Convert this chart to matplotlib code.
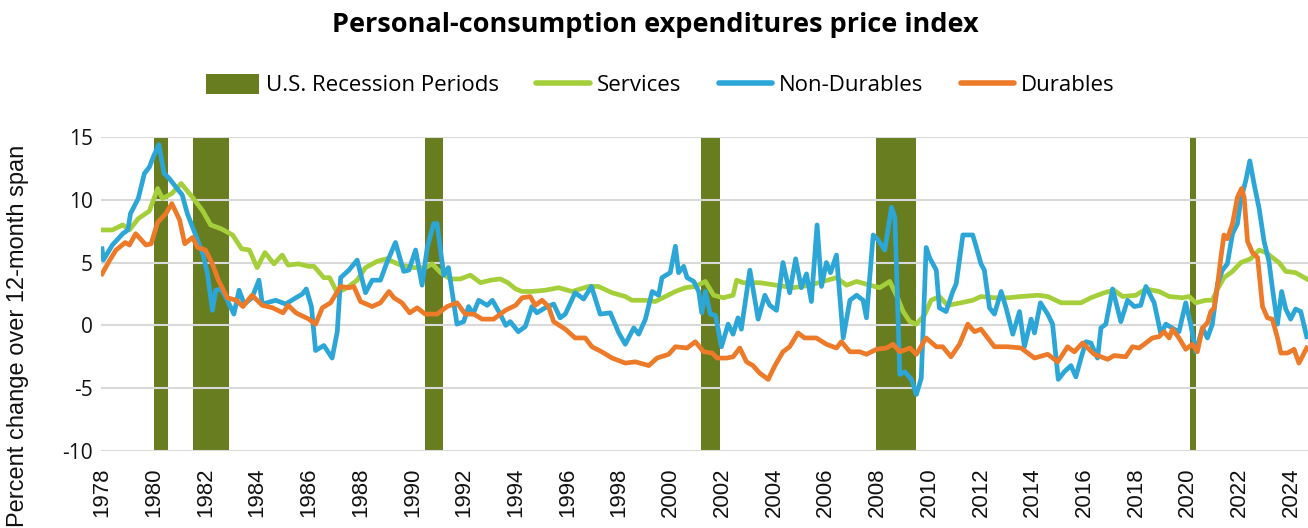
import matplotlib
matplotlib.use("Agg")
import matplotlib.pyplot as plt
from matplotlib.patches import Patch
from matplotlib.lines import Line2D

title = "Personal-consumption expenditures price index"
y_label = "Percent change over 12-month span"
x_ticks = list(range(1978, 2025, 2))
y_ticks = [-10, -5, 0, 5, 10, 15]

recession_start = [1980.0, 1981.5, 1990.5, 2001.17, 2007.92, 2020.08]
recession_end = [1980.55, 1982.9, 1991.2, 2001.9, 2009.5, 2020.33]

services_t = [1978.0, 1978.4, 1978.8, 1979.06, 1979.4, 1979.83, 1980.15, 1980.34, 1980.7, 1981.06,
              1981.5, 1981.9, 1982.2, 1982.6, 1983.05, 1983.4, 1983.7, 1984.0, 1984.3, 1984.65,
              1984.97, 1985.2, 1985.6, 1986.0, 1986.2, 1986.58, 1986.8, 1987.1, 1987.48, 1987.87,
              1988.19, 1988.64, 1989.0, 1989.55, 1990.06, 1990.5, 1990.77, 1991.1, 1991.47, 1991.86,
              1992.25, 1992.64, 1993.03, 1993.4, 1993.7, 1994.0, 1994.25, 1994.63, 1995.14, 1995.66,
              1996.18, 1996.82, 1997.2, 1997.73, 1998.24, 1998.5, 1999.02, 1999.4, 1999.79, 2000.18,
              2000.56, 2000.95, 2001.34, 2001.66, 2002.03, 2002.41, 2002.55, 2002.8, 2003.44, 2004.09,
              2004.73, 2005.37, 2005.89, 2006.41, 2006.8, 2007.19, 2007.7, 2008.08, 2008.47, 2008.73,
              2008.99, 2009.25, 2009.5, 2009.81, 2010.07, 2010.39, 2010.71, 2011.23, 2011.68, 2012.0,
              2012.52, 2013.04, 2013.55, 2014.2, 2014.58, 2015.1, 2015.87, 2016.25, 2016.77, 2017.15,
              2017.48, 2017.99, 2018.38, 2018.89, 2019.28, 2019.79, 2020.05, 2020.31, 2020.69, 2020.95,
              2021.15, 2021.4, 2021.73, 2022.05, 2022.43, 2022.76, 2023.02, 2023.27, 2023.53, 2023.79,
              2024.17, 2024.6]
services_v = [7.6, 7.6, 8.0, 7.6, 8.5, 9.1, 10.9, 10.1, 10.5, 11.3,
              10.2, 9.1, 8.0, 7.7, 7.2, 6.1, 6.0, 4.6, 5.8, 4.9,
              5.6, 4.8, 4.9, 4.7, 4.7, 3.8, 3.8, 2.6, 3.0, 3.6,
              4.6, 5.1, 5.3, 4.8, 4.6, 4.6, 4.9, 4.2, 3.7, 3.7,
              4.0, 3.4, 3.6, 3.7, 3.4, 2.9, 2.7, 2.7, 2.8, 3.0,
              2.7, 3.1, 3.1, 2.6, 2.3, 2.0, 2.0, 1.9, 2.3, 2.7,
              3.0, 3.1, 3.5, 2.4, 2.2, 2.4, 3.6, 3.4, 3.4, 3.2,
              3.0, 3.2, 3.5, 3.8, 3.2, 3.5, 3.2, 3.0, 3.5, 2.4,
              1.1, 0.3, 0.1, 0.8, 2.0, 2.3, 1.6, 1.8, 2.0, 2.3,
              2.2, 2.2, 2.3, 2.4, 2.3, 1.8, 1.8, 2.2, 2.6, 2.8,
              2.3, 2.4, 2.9, 2.7, 2.3, 2.2, 2.3, 1.8, 2.0, 2.0,
              2.9, 3.8, 4.3, 5.0, 5.3, 6.0, 5.8, 5.4, 5.0, 4.3,
              4.2, 3.7]

nondurables_t = [1978.0, 1978.05, 1978.4, 1978.8, 1979.0, 1979.1, 1979.4, 1979.64, 1979.83, 1980.0,
                 1980.2, 1980.4, 1980.6, 1980.9, 1981.1, 1981.3, 1981.6, 1981.9, 1982.08, 1982.27,
                 1982.4, 1982.6, 1982.85, 1983.1, 1983.3, 1983.5, 1983.8, 1984.07, 1984.2, 1984.72,
                 1985.1, 1985.5, 1985.75, 1985.9, 1986.1, 1986.26, 1986.58, 1986.9, 1987.1, 1987.23,
                 1987.55, 1987.87, 1988.19, 1988.45, 1988.77, 1989.0, 1989.35, 1989.67, 1989.87, 1990.13,
                 1990.38, 1990.58, 1990.83, 1990.96, 1991.22, 1991.4, 1991.73, 1991.99, 1992.18, 1992.35,
                 1992.57, 1992.9, 1993.1, 1993.35, 1993.62, 1993.79, 1994.1, 1994.37, 1994.63, 1994.82,
                 1995.14, 1995.47, 1995.72, 1995.92, 1996.3, 1996.63, 1996.93, 1997.27, 1997.66, 1997.99,
                 1998.24, 1998.57, 1998.76, 1999.02, 1999.28, 1999.53, 1999.66, 1999.98, 2000.18, 2000.3,
                 2000.5, 2000.63, 2000.89, 2001.08, 2001.2, 2001.34, 2001.53, 2001.73, 2001.96, 2002.22,
                 2002.41, 2002.6, 2002.73, 2003.06, 2003.38, 2003.64, 2003.83, 2004.09, 2004.34, 2004.6,
                 2004.83, 2005.05, 2005.25, 2005.44, 2005.66, 2005.83, 2006.02, 2006.18, 2006.41, 2006.67,
                 2006.93, 2007.19, 2007.44, 2007.57, 2007.83, 2008.02, 2008.28, 2008.54, 2008.67, 2008.86,
                 2009.05, 2009.31, 2009.5, 2009.69, 2009.88, 2010.01, 2010.27, 2010.39, 2010.65, 2010.91,
                 2011.04, 2011.3, 2011.68, 2011.81, 2012.0, 2012.13, 2012.33, 2012.52, 2012.78, 2012.97,
                 2013.23, 2013.49, 2013.68, 2013.94, 2014.07, 2014.3, 2014.58, 2014.77, 2014.99, 2015.22,
                 2015.48, 2015.67, 2015.87, 2016.06, 2016.25, 2016.51, 2016.64, 2016.83, 2017.09, 2017.41,
                 2017.67, 2017.93, 2018.18, 2018.38, 2018.7, 2018.96, 2019.15, 2019.47, 2019.66, 2019.92,
                 2020.11, 2020.31, 2020.57, 2020.76, 2020.95, 2021.15, 2021.34, 2021.53, 2021.73, 2021.92,
                 2022.05, 2022.24, 2022.4, 2022.56, 2022.76, 2022.95, 2023.14, 2023.27, 2023.47, 2023.63,
                 2023.79, 2023.98, 2024.17, 2024.37, 2024.6]
nondurables_v = [6.1, 5.2, 6.4, 7.3, 7.6, 8.9, 10.1, 12.1, 12.6, 13.5,
                 14.4, 12.1, 11.7, 10.9, 10.4, 8.9, 7.3, 5.7, 4.1, 1.2,
                 2.8, 2.9, 2.0, 0.9, 2.8, 1.7, 2.2, 3.6, 1.7, 2.0,
                 1.7, 2.2, 2.5, 2.9, 1.5, -2.0, -1.6, -2.6, -0.5, 3.8,
                 4.4, 5.2, 2.6, 3.6, 3.6, 4.9, 6.6, 4.3, 4.4, 6.0,
                 3.2, 6.2, 8.1, 8.1, 4.0, 4.6, 0.1, 0.3, 1.5, 0.9,
                 2.0, 1.6, 2.0, 1.1, 0.0, 0.3, -0.5, -0.1, 1.5, 1.0,
                 1.4, 1.7, 0.6, 0.9, 2.6, 2.1, 3.1, 0.9, 1.0, -0.6,
                 -1.5, -0.2, -0.7, 0.5, 2.7, 2.4, 3.8, 4.2, 6.3, 4.2,
                 4.7, 3.8, 3.5, 2.7, 1.0, 2.7, 0.9, 0.8, -1.7, 0.1,
                 -0.7, 0.6, -0.3, 4.4, 0.5, 2.4, 1.6, 1.2, 5.0, 2.6,
                 5.3, 3.0, 4.1, 1.9, 8.0, 3.1, 5.0, 4.2, 5.6, -1.0,
                 2.0, 2.4, 2.0, 0.6, 7.2, 6.8, 6.0, 9.4, 8.6, -3.9,
                 -3.7, -4.3, -5.5, -4.2, 6.2, 5.4, 4.4, 1.4, 1.1, 2.7,
                 3.3, 7.2, 7.2, 6.3, 4.9, 4.4, 1.4, 0.9, 2.7, 1.4,
                 -0.7, 1.1, -1.7, 0.5, -0.6, 1.8, 0.9, 0.1, -4.3, -3.7,
                 -3.2, -4.1, -2.6, -1.3, -1.4, -2.6, -0.2, 0.1, 2.9, 0.3,
                 2.0, 1.5, 1.6, 3.1, 1.8, -0.7, 0.1, -0.3, -0.5, 1.8,
                 0.1, -2.1, -0.2, -1.0, 0.1, 3.3, 4.4, 4.9, 7.3, 8.1,
                 10.0, 11.5, 13.1, 11.3, 9.3, 6.7, 5.1, 3.0, 0.1, 2.7,
                 1.3, 0.5, 1.3, 1.1, -0.9]

durables_t = [1978.0, 1978.3, 1978.54, 1978.9, 1979.06, 1979.3, 1979.7, 1979.9, 1980.15, 1980.47,
              1980.7, 1981.0, 1981.2, 1981.5, 1981.7, 1982.0, 1982.27, 1982.5, 1982.85, 1983.2,
              1983.45, 1983.8, 1984.2, 1984.6, 1985.0, 1985.2, 1985.5, 1985.8, 1986.0, 1986.26,
              1986.52, 1986.84, 1987.23, 1987.55, 1987.74, 1988.0, 1988.45, 1988.77, 1989.1, 1989.29,
              1989.6, 1989.9, 1990.19, 1990.5, 1990.96, 1991.35, 1991.73, 1992.05, 1992.38, 1992.7,
              1993.15, 1993.6, 1994.0, 1994.25, 1994.56, 1994.76, 1995.02, 1995.27, 1995.47, 1995.92,
              1996.3, 1996.69, 1996.95, 1997.33, 1997.73, 1998.24, 1998.63, 1999.15, 1999.47, 1999.92,
              2000.18, 2000.63, 2000.95, 2001.27, 2001.6, 2001.8, 2002.16, 2002.41, 2002.67, 2002.93,
              2003.18, 2003.44, 2003.77, 2004.03, 2004.34, 2004.6, 2004.92, 2005.18, 2005.63, 2006.02,
              2006.41, 2006.6, 2006.93, 2007.31, 2007.57, 2007.96, 2008.34, 2008.6, 2008.86, 2009.25,
              2009.5, 2009.88, 2010.27, 2010.52, 2010.84, 2011.17, 2011.49, 2011.75, 2012.0, 2012.52,
              2013.04, 2013.55, 2014.07, 2014.58, 2014.97, 2015.35, 2015.61, 2015.93, 2016.38, 2016.9,
              2017.15, 2017.6, 2017.86, 2018.12, 2018.38, 2018.63, 2018.89, 2019.08, 2019.28, 2019.41,
              2019.66, 2019.92, 2020.18, 2020.37, 2020.57, 2020.76, 2020.89, 2021.02, 2021.15, 2021.28,
              2021.4, 2021.53, 2021.73, 2021.92, 2022.08, 2022.18, 2022.31, 2022.5, 2022.7, 2022.89,
              2023.08, 2023.27, 2023.47, 2023.6, 2023.86, 2024.11, 2024.3, 2024.6]
durables_v = [4.1, 5.2, 6.0, 6.6, 6.4, 7.3, 6.4, 6.5, 8.2, 8.9,
              9.7, 8.4, 6.5, 7.0, 6.2, 6.0, 4.9, 3.6, 2.2, 2.0,
              1.5, 2.4, 1.6, 1.4, 1.0, 1.6, 1.0, 0.7, 0.5, 0.1,
              1.4, 1.8, 3.1, 3.0, 3.1, 1.9, 1.5, 1.8, 2.7, 2.2,
              1.8, 1.0, 1.4, 0.9, 0.9, 1.5, 1.8, 0.9, 0.9, 0.5,
              0.5, 1.2, 1.6, 2.2, 2.3, 1.6, 2.0, 1.5, 0.3, -0.3,
              -1.0, -1.0, -1.7, -2.1, -2.6, -3.0, -2.9, -3.2, -2.6, -2.3,
              -1.7, -1.8, -1.3, -2.1, -2.2, -2.6, -2.6, -2.5, -1.8, -2.9,
              -3.2, -3.8, -4.3, -3.2, -2.1, -1.7, -0.6, -1.0, -1.0, -1.5,
              -1.8, -1.3, -2.1, -2.1, -2.3, -1.9, -1.8, -1.5, -2.1, -1.8,
              -2.3, -1.0, -1.7, -1.7, -2.5, -1.5, 0.1, -0.5, -0.3, -1.7,
              -1.7, -1.8, -2.6, -2.3, -2.9, -1.7, -2.1, -1.4, -2.3, -2.7,
              -2.4, -2.5, -1.7, -1.8, -1.4, -1.0, -0.9, -0.5, -1.0, -0.3,
              -1.0, -1.9, -1.5, -2.1, -0.2, 0.2, 1.1, 1.4, 3.2, 5.4,
              7.2, 6.9, 8.1, 10.2, 10.9, 10.2, 6.7, 5.8, 5.4, 1.5,
              0.6, 0.5, -1.0, -2.2, -2.2, -1.9, -3.0, -1.8]

C_REC = "#687D1F"
C_SERV = "#A5CF3A"
C_NOND = "#2CA6D6"
C_DUR = "#EC7A28"

fig = plt.figure(figsize=(13.08, 5.28), dpi=100)
ax = fig.add_axes([101 / 1308, 1 - 451 / 528, 1207 / 1308, 314 / 528])

for s, e in zip(recession_start, recession_end):
    ax.axvspan(s, e, color=C_REC, zorder=1, lw=0)

ax.plot(services_t, services_v, color=C_SERV, lw=3.4, zorder=3, solid_joinstyle="round")
ax.plot(nondurables_t, nondurables_v, color=C_NOND, lw=3.4, zorder=4, solid_joinstyle="round")
ax.plot(durables_t, durables_v, color=C_DUR, lw=3.4, zorder=5, solid_joinstyle="round")

ax.set_xlim(1977.96, 2024.65)
ax.set_ylim(-10, 15)
ax.set_yticks(y_ticks)
ax.set_xticks(x_ticks)
ax.set_xticklabels([str(x) for x in x_ticks], rotation=90, fontsize=16,
                   family=["Liberation Sans", "DejaVu Sans"], color="#111111")
ax.set_yticklabels([str(v) for v in y_ticks], fontsize=15,
                   family=["Open Sans", "DejaVu Sans"], color="#111111")
ax.tick_params(axis="both", length=0)
ax.tick_params(axis="x", pad=12)
ax.tick_params(axis="y", pad=6)
ax.yaxis.grid(True, color="#D9D9D9", lw=1.5, zorder=2)
ax.set_axisbelow(False)
for sp in ax.spines.values():
    sp.set_visible(False)
for gl in ax.get_ygridlines():
    gl.set_zorder(2)

fig.text(655 / 1308, 1 - 25 / 528, title, ha="center", va="center", fontsize=19.5,
         fontweight="bold", family=["Open Sans", "DejaVu Sans"])
fig.text(18 / 1308, 1 - 336 / 528, y_label, rotation=90, ha="center", va="center",
         fontsize=17, family=["Liberation Sans", "DejaVu Sans"], color="#111111")

handles = [Patch(facecolor=C_REC, edgecolor="none"),
           Line2D([0], [0], color=C_SERV, lw=4, solid_capstyle="round"),
           Line2D([0], [0], color=C_NOND, lw=4, solid_capstyle="round"),
           Line2D([0], [0], color=C_DUR, lw=4, solid_capstyle="round")]
labels = ["U.S. Recession Periods", "Services", "Non-Durables", "Durables"]
fig.legend(handles, labels, loc="center", bbox_to_anchor=(660 / 1308, 1 - 85 / 528), ncol=4,
           frameon=False, prop={"family": ["Open Sans", "DejaVu Sans"], "size": 16},
           handlelength=2.4, handleheight=1.0, handletextpad=0.3, columnspacing=1.7)

fig.savefig("out.png", dpi=100)
